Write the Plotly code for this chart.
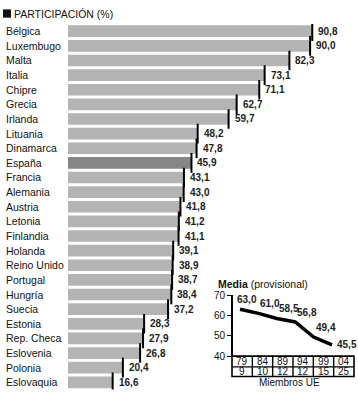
import plotly.graph_objects as go

countries = ["Bélgica", "Luxembugo", "Malta", "Italia", "Chipre", "Grecia", "Irlanda",
             "Lituania", "Dinamarca", "España", "Francia", "Alemania", "Austria", "Letonia",
             "Finlandia", "Holanda", "Reino Unido", "Portugal", "Hungría", "Suecia",
             "Estonia", "Rep. Checa", "Eslovenia", "Polonia", "Eslovaquia"]
participacion = [90.8, 90.0, 82.3, 73.1, 71.1, 62.7, 59.7, 48.2, 47.8, 45.9, 43.1, 43.0,
                 41.8, 41.2, 41.1, 39.1, 38.9, 38.7, 38.4, 37.2, 28.3, 27.9, 26.8, 20.4, 16.6]
highlight = "España"

years = ["79", "84", "89", "94", "99", "04"]
members = [9, 10, 12, 12, 15, 25]
media = [63.0, 61.0, 58.5, 56.8, 49.4, 45.5]

W, H = 358, 400
FONT = "Liberation Sans, Arial, sans-serif"

def fmt(v):
    return f"{v:.1f}".replace(".", ",")

def px(x):
    return x / W

def py(y):
    return 1 - y / H

bar_colors = ["#868686" if c == highlight else "#b4b4b4" for c in countries]

fig = go.Figure()
fig.add_trace(go.Bar(
    x=participacion, y=countries, orientation="h",
    marker=dict(color=bar_colors, line=dict(width=0)),
    xaxis="x", yaxis="y", hoverinfo="skip"))
fig.add_trace(go.Scatter(
    x=participacion, y=countries, mode="markers",
    marker=dict(symbol="line-ns", size=14, line=dict(color="black", width=2)),
    xaxis="x", yaxis="y", hoverinfo="skip"))

annotations = []
for c, v in zip(countries, participacion):
    annotations.append(dict(x=px(4), xref="paper", y=c, yref="y", text=c,
                            xanchor="left", yanchor="middle", showarrow=False,
                            font=dict(family=FONT, size=10.5, color="#111")))
    annotations.append(dict(x=v, xref="x", y=c, yref="y", text="<b>" + fmt(v) + "</b>",
                            xanchor="left", yanchor="middle", showarrow=False, xshift=4,
                            font=dict(family=FONT, size=10, color="#222")))

# Inset: line chart of the average
xi = list(range(len(media)))
fig.add_trace(go.Scatter(
    x=xi, y=media, mode="lines",
    line=dict(color="black", width=3.5),
    xaxis="x2", yaxis="y2", hoverinfo="skip", cliponaxis=False))

for i, v in enumerate(media):
    last = i == len(media) - 1
    annotations.append(dict(x=i, xref="x2", y=v, yref="y2", text="<b>" + fmt(v) + "</b>",
                            xanchor="left", yanchor="middle" if last else "bottom",
                            xshift=3 if last else (-5 if i == 0 else 0),
                            yshift=0 if last else 2,
                            showarrow=False,
                            font=dict(family=FONT, size=10, color="#222")))

# table under the inset
for i, (yr, m) in enumerate(zip(years, members)):
    xc = (i + 0.5) / len(years)
    annotations.append(dict(x=xc, xref="x2 domain", y=py(366.7), yref="paper", text=yr,
                            xanchor="center", yanchor="middle", showarrow=False,
                            font=dict(family=FONT, size=10, color="#111")))
    annotations.append(dict(x=xc, xref="x2 domain", y=py(377.2), yref="paper", text=str(m),
                            xanchor="center", yanchor="middle", showarrow=False,
                            font=dict(family=FONT, size=10, color="#111")))
annotations.append(dict(x=0.47, xref="x2 domain", y=py(388.5), yref="paper", text="Miembros UE",
                        xanchor="center", yanchor="middle", showarrow=False,
                        font=dict(family=FONT, size=10, color="#111")))
annotations.append(dict(x=px(216), xref="paper", y=py(286.5), yref="paper",
                        text="<b>Media</b> (provisional)",
                        xanchor="left", yanchor="middle", showarrow=False,
                        font=dict(family=FONT, size=10.5, color="#111")))
annotations.append(dict(x=px(12), xref="paper", y=py(8), yref="paper",
                        text="PARTICIPACIÓN (%)",
                        xanchor="left", yanchor="middle", showarrow=False,
                        font=dict(family=FONT, size=10.5, color="#111")))

shapes = [
    dict(type="rect", xref="paper", yref="paper", x0=px(3), x1=px(11), y0=py(12), y1=py(3.5),
         fillcolor="#111", line=dict(width=0)),
    dict(type="rect", xref="x2 domain", yref="paper", x0=0, x1=1, y0=py(382), y1=py(361),
         line=dict(color="black", width=1.6)),
    dict(type="line", xref="x2 domain", yref="paper", x0=0, x1=1, y0=py(372), y1=py(372),
         line=dict(color="black", width=1.4)),
]
for i in range(1, len(years)):
    shapes.append(dict(type="line", xref="x2 domain", yref="paper",
                       x0=i / len(years), x1=i / len(years), y0=py(382), y1=py(361),
                       line=dict(color="black", width=1.4)))

n = len(countries)
pitch = 15.08
top = 26 - pitch / 2
bottom = top + pitch * n

x2_left, x2_right = 232, 354
p0, step = 240, 18.4

fig.update_layout(
    width=W, height=H,
    margin=dict(l=0, r=0, t=0, b=0),
    paper_bgcolor="white", plot_bgcolor="rgba(0,0,0,0)",
    showlegend=False, bargap=0.2,
    xaxis=dict(domain=[px(68), px(337)], range=[0, 100], visible=False, fixedrange=True),
    yaxis=dict(domain=[py(bottom), py(top)], type="category", range=[n - 0.5, -0.5],
               showticklabels=False, showgrid=False, zeroline=False, showline=False,
               ticks="", fixedrange=True),
    xaxis2=dict(domain=[px(x2_left), px(x2_right)],
                range=[-(p0 - x2_left) / step, (x2_right - p0) / step],
                visible=False, anchor="y2"),
    yaxis2=dict(domain=[py(361), py(298)], range=[40, 70], anchor="free",
                position=px(x2_left), tickvals=[40, 50, 60, 70],
                showline=True, linecolor="black", linewidth=2,
                ticks="outside", ticklen=4, tickwidth=1, tickcolor="black",
                showgrid=False, zeroline=False,
                tickfont=dict(family=FONT, size=10, color="#111")),
    annotations=annotations, shapes=shapes,
)

fig.write_html("out.html", config={"displayModeBar": False},
               post_script="document.body.style.margin='0';document.body.style.padding='0';")
